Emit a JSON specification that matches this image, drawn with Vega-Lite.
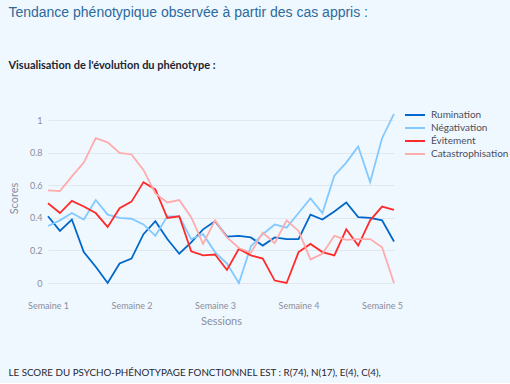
{
  "$schema": "https://vega.github.io/schema/vega-lite/v6.json",
  "background": "#f0f8ff",
  "padding": {"left": 8, "top": 6, "right": 5, "bottom": 5},
  "title": {
    "text": "Tendance phénotypique observée à partir des cas appris :",
    "subtitle": "Visualisation de l'évolution du phénotype :",
    "anchor": "start",
    "font": "Liberation Sans",
    "fontSize": 14,
    "fontWeight": "normal",
    "color": "#2c6a9c",
    "subtitleFont": "Lato",
    "subtitleFontSize": 11,
    "subtitleFontWeight": "bold",
    "subtitleColor": "#1c2530",
    "subtitlePadding": 40,
    "offset": 38
  },
  "datasets": {
    "scores": [
      {"i":0,"s":"Rumination","v":0.41},{"i":1,"s":"Rumination","v":0.32},{"i":2,"s":"Rumination","v":0.39},{"i":3,"s":"Rumination","v":0.19},{"i":4,"s":"Rumination","v":0.10},{"i":5,"s":"Rumination","v":0.0},{"i":6,"s":"Rumination","v":0.12},{"i":7,"s":"Rumination","v":0.15},{"i":8,"s":"Rumination","v":0.30},{"i":9,"s":"Rumination","v":0.38},{"i":10,"s":"Rumination","v":0.27},{"i":11,"s":"Rumination","v":0.18},{"i":12,"s":"Rumination","v":0.25},{"i":13,"s":"Rumination","v":0.33},{"i":14,"s":"Rumination","v":0.38},{"i":15,"s":"Rumination","v":0.285},{"i":16,"s":"Rumination","v":0.29},{"i":17,"s":"Rumination","v":0.28},{"i":18,"s":"Rumination","v":0.23},{"i":19,"s":"Rumination","v":0.28},{"i":20,"s":"Rumination","v":0.27},{"i":21,"s":"Rumination","v":0.27},{"i":22,"s":"Rumination","v":0.42},{"i":23,"s":"Rumination","v":0.39},{"i":24,"s":"Rumination","v":0.44},{"i":25,"s":"Rumination","v":0.495},{"i":26,"s":"Rumination","v":0.405},{"i":27,"s":"Rumination","v":0.40},{"i":28,"s":"Rumination","v":0.385},{"i":29,"s":"Rumination","v":0.255},
      {"i":0,"s":"Négativation","v":0.35},{"i":1,"s":"Négativation","v":0.385},{"i":2,"s":"Négativation","v":0.43},{"i":3,"s":"Négativation","v":0.39},{"i":4,"s":"Négativation","v":0.51},{"i":5,"s":"Négativation","v":0.42},{"i":6,"s":"Négativation","v":0.40},{"i":7,"s":"Négativation","v":0.395},{"i":8,"s":"Négativation","v":0.36},{"i":9,"s":"Négativation","v":0.29},{"i":10,"s":"Négativation","v":0.41},{"i":11,"s":"Négativation","v":0.41},{"i":12,"s":"Négativation","v":0.27},{"i":13,"s":"Négativation","v":0.30},{"i":14,"s":"Négativation","v":0.19},{"i":15,"s":"Négativation","v":0.12},{"i":16,"s":"Négativation","v":0.0},{"i":17,"s":"Négativation","v":0.225},{"i":18,"s":"Négativation","v":0.30},{"i":19,"s":"Négativation","v":0.36},{"i":20,"s":"Négativation","v":0.34},{"i":21,"s":"Négativation","v":0.43},{"i":22,"s":"Négativation","v":0.52},{"i":23,"s":"Négativation","v":0.43},{"i":24,"s":"Négativation","v":0.66},{"i":25,"s":"Négativation","v":0.74},{"i":26,"s":"Négativation","v":0.84},{"i":27,"s":"Négativation","v":0.62},{"i":28,"s":"Négativation","v":0.89},{"i":29,"s":"Négativation","v":1.04},
      {"i":0,"s":"Évitement","v":0.49},{"i":1,"s":"Évitement","v":0.43},{"i":2,"s":"Évitement","v":0.505},{"i":3,"s":"Évitement","v":0.47},{"i":4,"s":"Évitement","v":0.43},{"i":5,"s":"Évitement","v":0.345},{"i":6,"s":"Évitement","v":0.46},{"i":7,"s":"Évitement","v":0.50},{"i":8,"s":"Évitement","v":0.62},{"i":9,"s":"Évitement","v":0.575},{"i":10,"s":"Évitement","v":0.40},{"i":11,"s":"Évitement","v":0.41},{"i":12,"s":"Évitement","v":0.195},{"i":13,"s":"Évitement","v":0.17},{"i":14,"s":"Évitement","v":0.175},{"i":15,"s":"Évitement","v":0.08},{"i":16,"s":"Évitement","v":0.21},{"i":17,"s":"Évitement","v":0.17},{"i":18,"s":"Évitement","v":0.15},{"i":19,"s":"Évitement","v":0.015},{"i":20,"s":"Évitement","v":0.0},{"i":21,"s":"Évitement","v":0.19},{"i":22,"s":"Évitement","v":0.24},{"i":23,"s":"Évitement","v":0.19},{"i":24,"s":"Évitement","v":0.17},{"i":25,"s":"Évitement","v":0.33},{"i":26,"s":"Évitement","v":0.23},{"i":27,"s":"Évitement","v":0.385},{"i":28,"s":"Évitement","v":0.47},{"i":29,"s":"Évitement","v":0.45},
      {"i":0,"s":"Catastrophisation","v":0.57},{"i":1,"s":"Catastrophisation","v":0.565},{"i":2,"s":"Catastrophisation","v":0.655},{"i":3,"s":"Catastrophisation","v":0.74},{"i":4,"s":"Catastrophisation","v":0.89},{"i":5,"s":"Catastrophisation","v":0.865},{"i":6,"s":"Catastrophisation","v":0.80},{"i":7,"s":"Catastrophisation","v":0.79},{"i":8,"s":"Catastrophisation","v":0.695},{"i":9,"s":"Catastrophisation","v":0.55},{"i":10,"s":"Catastrophisation","v":0.495},{"i":11,"s":"Catastrophisation","v":0.51},{"i":12,"s":"Catastrophisation","v":0.405},{"i":13,"s":"Catastrophisation","v":0.24},{"i":14,"s":"Catastrophisation","v":0.385},{"i":15,"s":"Catastrophisation","v":0.28},{"i":16,"s":"Catastrophisation","v":0.215},{"i":17,"s":"Catastrophisation","v":0.185},{"i":18,"s":"Catastrophisation","v":0.31},{"i":19,"s":"Catastrophisation","v":0.245},{"i":20,"s":"Catastrophisation","v":0.385},{"i":21,"s":"Catastrophisation","v":0.32},{"i":22,"s":"Catastrophisation","v":0.145},{"i":23,"s":"Catastrophisation","v":0.18},{"i":24,"s":"Catastrophisation","v":0.29},{"i":25,"s":"Catastrophisation","v":0.265},{"i":26,"s":"Catastrophisation","v":0.27},{"i":27,"s":"Catastrophisation","v":0.27},{"i":28,"s":"Catastrophisation","v":0.22},{"i":29,"s":"Catastrophisation","v":0.0}
    ]
  },
  "vconcat": [
    {
      "width": 346,
      "height": 170,
      "data": {"name": "scores"},
      "title": {
        "text": "LE SCORE DU PSYCHO-PHÉNOTYPAGE FONCTIONNEL EST : R(74), N(17), E(4), C(4),",
        "orient": "bottom",
        "anchor": "start",
        "frame": "bounds",
        "font": "Lato",
        "fontSize": 9.8,
        "fontWeight": "normal",
        "color": "#262730",
        "offset": 42
      },
      "mark": {"type": "line", "strokeWidth": 1.8, "clip": false},
      "encoding": {
        "x": {
          "field": "i",
          "type": "quantitative",
          "title": "Sessions",
          "scale": {"domain": [0, 29], "nice": false, "zero": false},
          "axis": {
            "values": [0, 7, 14, 21, 28],
            "labelExpr": "'Semaine ' + (datum.value / 7 + 1)",
            "grid": false,
            "labelPadding": 18,
            "titlePadding": 5,
            "labelFlush": false
          }
        },
        "y": {
          "field": "v",
          "type": "quantitative",
          "title": "Scores",
          "scale": {"domain": [0, 1.045], "nice": false},
          "axis": {"values": [0, 0.2, 0.4, 0.6, 0.8, 1], "format": "~g", "labelPadding": 6, "titlePadding": 10}
        },
        "color": {
          "field": "s",
          "type": "nominal",
          "sort": ["Rumination", "Négativation", "Évitement", "Catastrophisation"],
          "scale": {
            "domain": ["Rumination", "Négativation", "Évitement", "Catastrophisation"],
            "range": ["#0068c9", "#83c9ff", "#ff2b2b", "#ffabab"]
          },
          "legend": {"title": null, "orient": "none", "legendX": 361, "legendY": -4}
        }
      }
    }
  ],
  "config": {
    "view": {"stroke": null},
    "axis": {
      "domain": false,
      "ticks": false,
      "gridColor": "#e2e8ef",
      "gridWidth": 1,
      "labelColor": "#8a8d9b",
      "labelFont": "Lato",
      "labelFontSize": 9,
      "titleColor": "#8a8d9b",
      "titleFont": "Lato",
      "titleFontSize": 11,
      "titleFontWeight": "normal"
    },
    "legend": {
      "symbolType": "M-2,0H2",
      "symbolSize": 100,
      "symbolStrokeWidth": 2,
      "labelFont": "Lato",
      "labelFontSize": 10,
      "labelColor": "#4a4d5a",
      "rowPadding": 2,
      "labelOffset": 10
    }
  }
}
